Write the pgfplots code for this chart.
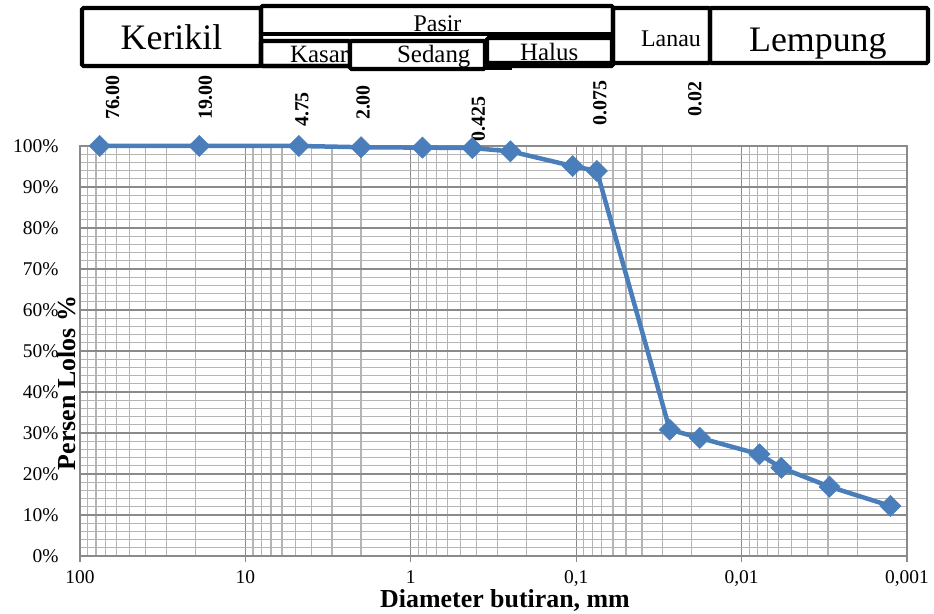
\documentclass[border=0pt]{standalone}
\usepackage{pgfplots}
\pgfplotsset{compat=1.18}
\usepackage{fontspec}
\setmainfont{Liberation Serif}
\definecolor{series}{HTML}{4A7EBB}
\definecolor{gridmajor}{HTML}{8A8A8A}
\definecolor{gridminor}{HTML}{B4B4B4}

\pgfplotstableread{
d        p
76.0     100.0
19.0     100.0
4.75     100.0
2.00     99.7
0.85     99.6
0.425    99.5
0.25     98.7
0.105    95.1
0.075    93.9
0.0272   30.8
0.0179   28.8
0.0078   24.8
0.00575  21.5
0.00294  16.9
0.00126  12.2
}\gradation

\begin{document}
\begin{tikzpicture}[x=1bp,y=1bp]
\path[use as bounding box] (-80,-58) rectangle (854,556);
\begin{axis}[
  at={(0,0)}, anchor=south west,
  scale only axis, width=827bp, height=410bp,
  xmode=log, x dir=reverse, xmin=0.001, xmax=100,
  ymin=0, ymax=100,
  xtick={100,10,1,0.1,0.01,0.001},
  xticklabels={100,10,1,{0,1},{0,01},{0,001}},
  minor xtick={0.002,0.003,0.004,0.005,0.006,0.007,0.008,0.009,
               0.02,0.03,0.04,0.05,0.06,0.07,0.08,0.09,
               0.2,0.3,0.4,0.5,0.6,0.7,0.8,0.9,
               2,3,4,5,6,7,8,9,
               20,30,40,50,60,70,80,90},
  ytick={0,10,20,30,40,50,60,70,80,90,100},
  yticklabels={0\%,10\%,20\%,30\%,40\%,50\%,60\%,70\%,80\%,90\%,100\%},
  minor y tick num=4,
  grid=both,
  major grid style={gridmajor, line width=1.3bp},
  minor grid style={gridminor, line width=1.3bp},
  axis line style={gridmajor, line width=1.3bp},
  tick align=outside,
  xtick pos=bottom, ytick pos=left,
  major tick length=6bp, minor tick length=0pt,
  xtick style={gridmajor, line width=1.3bp},
  ytick style={/pgfplots/major tick length=0pt},
  ticklabel style={font=\fontsize{19.5}{21}\selectfont},
  xticklabel style={yshift=-7bp, inner sep=1bp},
  yticklabel style={xshift=-12bp},
  clip=false,
]
\addplot[series, line width=4.5bp, mark=square*, mark size=7.5bp,
  mark options={rotate=45, fill=series, draw=series, line width=0.5bp}]
  table[x=d, y=p] {\gradation};

% sieve sizes written above the grid
\begin{scope}[every node/.style={rotate=90, anchor=west, inner sep=0pt,
    font=\fontsize{20}{22}\selectfont\bfseries}]
\node at ([xshift=13bp]axis cs:76,106.3) {76.00};
\node at ([xshift=6bp]axis cs:19,106.3) {19.00};
\node at ([xshift=3bp]axis cs:4.75,104.6) {4.75};
\node at ([xshift=2bp]axis cs:2,106.3) {2.00};
\node at ([xshift=6bp]axis cs:0.425,101.0) {0.425};
\node at ([xshift=3bp]axis cs:0.075,104.9) {0.075};
\node at ([xshift=3bp]axis cs:0.02,107.1) {0.02};
\end{scope}
\end{axis}

% axis titles
\node[rotate=90, font=\fontsize{26}{28}\selectfont\bfseries] at (-13,173) {Persen Lolos \%};
\node[anchor=base, inner sep=1bp, font=\fontsize{26}{28}\selectfont\bfseries] at (425,-52) {Diameter butiran, mm};

% soil classification bands
\begin{scope}[line width=4.2bp, rounded corners=1.5bp]
\draw (2,490) rectangle (181,548);
\node[anchor=base, font=\fontsize{36}{38}\selectfont] at (91.5,506) {Kerikil};
\draw (181,490) rectangle (533,550);
\draw (181,522) -- (533,522);
\node[anchor=base, font=\fontsize{24}{26}\selectfont] at (357.5,524) {Pasir};
\draw (181,490) rectangle (270,515);
\node[anchor=base west, inner sep=0pt, font=\fontsize{25}{27}\selectfont] at (208,493) {Kasar};
\draw[fill=white] (270,487) rectangle (405,515);
\node[anchor=base west, inner sep=0pt, font=\fontsize{25}{27}\selectfont] at (315,493) {Sedang};
\draw (405,488) -- (432,488);
\draw[fill=white] (407,493) rectangle (532,518);
\node[anchor=base west, inner sep=0pt, font=\fontsize{25}{27}\selectfont] at (438,495) {Halus};
\draw (533,493) rectangle (630,548);
\node[anchor=base west, inner sep=0pt, font=\fontsize{24}{26}\selectfont] at (559,509) {Lanau};
\draw (630,493) rectangle (848,548);
\node[anchor=base west, inner sep=0pt, font=\fontsize{36}{38}\selectfont] at (667,504) {Lempung};
\end{scope}
\end{tikzpicture}
\end{document}
